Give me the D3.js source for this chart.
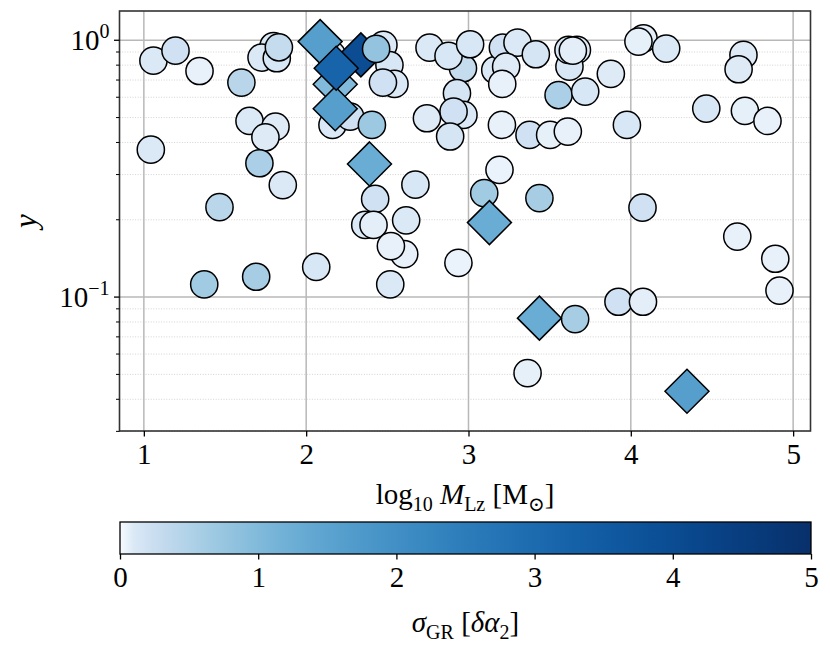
<!DOCTYPE html>
<html lang="en">
<head>
<meta charset="UTF-8">
<title>Scatter log y</title>
<script src="https://d3js.org/d3.v7.min.js"></script>
<style>
  body { margin: 0; background: #fff; }
  svg text { font-family: "Liberation Serif", "DejaVu Serif", serif; fill: #000; }
</style>
</head>
<body>
<svg id="chart" width="830" height="649"></svg>
<script>
// values, in draw order
const logM = [1.059, 1.195, 1.343, 1.601, 1.799, 1.725, 1.819, 1.832, 1.651, 1.811, 1.749, 1.043, 1.712, 1.856, 1.466, 1.372, 1.692,
  2.062, 2.158, 2.162, 2.271, 2.405, 2.476, 2.513, 2.544, 2.473, 2.425, 2.673, 2.364, 2.415, 2.616, 2.604, 2.522, 2.518, 2.938,
  2.760, 2.966, 2.877, 3.010, 2.929, 2.969, 2.908, 2.744, 2.887, 3.165, 3.212, 3.302, 3.415, 3.232, 3.208, 3.206, 3.376, 3.503,
  3.612, 3.555, 3.719, 3.668, 3.622, 3.616, 3.643, 3.877, 3.976, 4.078, 4.047, 4.218, 4.694, 4.664, 4.465, 4.703, 4.842, 3.191,
  3.097, 3.437, 4.072, 4.656, 4.890, 4.916, 3.924, 4.075, 3.657, 3.364,
  2.179, 2.086, 2.179, 2.337, 2.185, 2.390, 3.129, 3.437, 4.346,
  2.431];
const yVal = [0.833, 0.911, 0.759, 0.684, 0.950, 0.856, 0.851, 0.939, 0.485, 0.461, 0.419, 0.375, 0.332, 0.273, 0.224, 0.112, 0.120,
  0.131, 0.877, 0.468, 0.504, 0.468, 0.959, 0.801, 0.676, 0.684, 0.241, 0.274, 0.191, 0.191, 0.199, 0.147, 0.158, 0.112, 0.136,
  0.936, 0.778, 0.869, 0.965, 0.622, 0.512, 0.527, 0.497, 0.422, 0.766, 0.936, 0.979, 0.882, 0.789, 0.676, 0.468, 0.428, 0.428,
  0.441, 0.612, 0.631, 0.917, 0.789, 0.917, 0.911, 0.740, 0.468, 1.018, 0.988, 0.928, 0.877, 0.771, 0.542, 0.531, 0.485, 0.313,
  0.254, 0.243, 0.223, 0.172, 0.141, 0.106, 0.0959, 0.0959, 0.0821, 0.0506,
  0.674, 0.988, 0.541, 0.877, 0.778, 0.330, 0.195, 0.0828, 0.0430,
  0.925];
const sigma = [0.10, 0.20, 0.03, 0.42, 0.10, 0.10, 0.12, 0.30, 0.10, 0.08, 0.08, 0.10, 0.55, 0.10, 0.40, 0.65, 0.60,
  0.12, 0.10, 0.10, 0.20, 0.70, 0.10, 0.12, 0.10, 0.20, 0.20, 0.12, 0.10, 0.05, 0.10, 0.03, 0.03, 0.10, 0.02,
  0.10, 0.30, 0.12, 0.12, 0.15, 0.10, 0.20, 0.08, 0.15, 0.10, 0.20, 0.10, 0.15, 0.08, 0.03, 0.03, 0.20, 0.04,
  0.03, 0.55, 0.12, 0.08, 0.12, 0.12, 0.05, 0.08, 0.12, 0.05, 0.04, 0.10, 0.08, 0.08, 0.12, 0.04, 0.03, 0.02,
  0.65, 0.60, 0.20, 0.03, 0.03, 0.03, 0.20, 0.05, 0.60, 0.04,
  1.0, 1.6, 1.6, 4.0, 3.2, 1.3, 1.3, 1.3, 1.6,
  0.80];
const marker = logM.map((d, i) => (i >= 81 && i <= 89) ? "D" : "o");

const xTicks = [1, 2, 3, 4, 5];
const yMajor = [1, 0.1];
const yMinor = [0.9, 0.8, 0.7, 0.6, 0.5, 0.4, 0.3, 0.2, 0.09, 0.08, 0.07, 0.06, 0.05, 0.04, 0.03];
const cbTicks = [0, 1, 2, 3, 4, 5];

const FS = 29, SUB = 20;

const svg = d3.select("#chart");
const plot = { left: 119.5, right: 810.5, top: 11, bottom: 431 };

const x = d3.scaleLinear().domain([0.85, 5.107]).range([plot.left, plot.right]);
const y = d3.scaleLog().domain([0.0301, 1.30]).range([plot.bottom, plot.top]);
const color = v => d3.interpolateBlues(Math.sqrt(Math.max(0, Math.min(5, v)) / 5));

// grid
const grid = svg.append("g");
grid.selectAll(".minor").data(yMinor).enter().append("line")
  .attr("x1", plot.left).attr("x2", plot.right)
  .attr("y1", d => y(d)).attr("y2", d => y(d))
  .attr("stroke", "#c8c8c8").attr("stroke-width", 0.8).attr("stroke-dasharray", "1,1.6");
grid.selectAll(".majy").data(yMajor).enter().append("line")
  .attr("x1", plot.left).attr("x2", plot.right)
  .attr("y1", d => y(d)).attr("y2", d => y(d))
  .attr("stroke", "#b8b8b8").attr("stroke-width", 1.5);
grid.selectAll(".majx").data(xTicks).enter().append("line")
  .attr("x1", d => x(d)).attr("x2", d => x(d))
  .attr("y1", plot.top).attr("y2", plot.bottom)
  .attr("stroke", "#b8b8b8").attr("stroke-width", 1.5);

// markers
const diamond = s => `M0,${-s}L${s},0L0,${s}L${-s},0Z`;
const idx = d3.range(logM.length);
svg.append("g").selectAll("path").data(idx).enter().append("path")
  .attr("d", i => marker[i] === "D" ? diamond(22) : d3.arc()({ innerRadius: 0, outerRadius: 13.6, startAngle: 0, endAngle: 2 * Math.PI }))
  .attr("transform", i => `translate(${x(logM[i])},${y(yVal[i])})`)
  .attr("fill", i => color(sigma[i]))
  .attr("stroke", "#000").attr("stroke-width", 1.5);

// frame
svg.append("rect")
  .attr("x", plot.left).attr("y", plot.top)
  .attr("width", plot.right - plot.left).attr("height", plot.bottom - plot.top)
  .attr("fill", "none").attr("stroke", "#333").attr("stroke-width", 1.6);

// x axis
const xAxis = svg.append("g").attr("transform", `translate(0,${plot.bottom})`)
  .call(d3.axisBottom(x).tickValues(xTicks).tickSize(5.5).tickFormat(d3.format("d")));
xAxis.select(".domain").remove();
xAxis.selectAll("line").attr("stroke", "#000").attr("stroke-width", 1.3);
xAxis.selectAll("text").attr("font-size", FS).attr("dy", "0.85em")
  .style("font-family", "'Liberation Serif', serif");

// y axis
const yAxis = svg.append("g").attr("transform", `translate(${plot.left},0)`);
yAxis.selectAll(".mj").data(yMajor).enter().append("line")
  .attr("x1", -5.5).attr("x2", 0).attr("y1", d => y(d)).attr("y2", d => y(d))
  .attr("stroke", "#000").attr("stroke-width", 1.3);
yAxis.selectAll(".mn").data(yMinor).enter().append("line")
  .attr("x1", -3.5).attr("x2", 0).attr("y1", d => y(d)).attr("y2", d => y(d))
  .attr("stroke", "#000").attr("stroke-width", 1);
const ylab = yAxis.selectAll(".lab").data(yMajor).enter().append("text")
  .attr("x", -10).attr("y", d => y(d) + 10).attr("text-anchor", "end").attr("font-size", FS);
ylab.append("tspan").text("10");
ylab.append("tspan").attr("font-size", SUB).attr("dy", -12)
  .text(d => d === 1 ? "0" : "\u22121");

svg.append("text")
  .attr("transform", `translate(36,${(plot.top + plot.bottom) / 2}) rotate(-90)`)
  .attr("text-anchor", "middle").attr("font-size", 31).attr("font-style", "italic").text("y");

// x label
const xl = svg.append("text").attr("x", (plot.left + plot.right) / 2).attr("y", 504)
  .attr("text-anchor", "middle").attr("font-size", FS);
xl.append("tspan").text("log");
xl.append("tspan").attr("font-size", SUB).attr("dy", 7).text("10");
xl.append("tspan").attr("dy", -7).text(" ");
xl.append("tspan").attr("font-style", "italic").text("M");
xl.append("tspan").attr("font-size", SUB).attr("dy", 7).text("Lz");
xl.append("tspan").attr("dy", -7).text(" [M");
xl.append("tspan").attr("font-size", SUB).attr("dy", 7).text("\u2299");
xl.append("tspan").attr("dy", -7).text("]");

// colorbar
const cb = { left: 120, right: 811, top: 522, bottom: 554 };
const cx = d3.scaleLinear().domain([0, 5]).range([cb.left, cb.right]);
const grad = svg.append("defs").append("linearGradient").attr("id", "cbgrad");
grad.selectAll("stop").data(d3.range(0, 1.0001, 0.02)).enter().append("stop")
  .attr("offset", d => d).attr("stop-color", d => color(d * 5));
svg.append("rect").attr("x", cb.left).attr("y", cb.top)
  .attr("width", cb.right - cb.left).attr("height", cb.bottom - cb.top)
  .attr("fill", "url(#cbgrad)").attr("stroke", "#000").attr("stroke-width", 1.3);
const cAxis = svg.append("g").attr("transform", `translate(0,${cb.bottom})`)
  .call(d3.axisBottom(cx).tickValues(cbTicks).tickSize(5.5).tickFormat(d3.format("d")));
cAxis.select(".domain").remove();
cAxis.selectAll("line").attr("stroke", "#000").attr("stroke-width", 1.3);
cAxis.selectAll("text").attr("font-size", FS).attr("dy", "0.85em");

const cl = svg.append("text").attr("x", (cb.left + cb.right) / 2).attr("y", 632)
  .attr("text-anchor", "middle").attr("font-size", FS);
cl.append("tspan").attr("font-style", "italic").text("\u03c3");
cl.append("tspan").attr("font-size", SUB).attr("dy", 7).text("GR");
cl.append("tspan").attr("dy", -7).text(" [");
cl.append("tspan").attr("font-style", "italic").text("\u03b4\u03b1");
cl.append("tspan").attr("font-size", SUB).attr("dy", 7).text("2");
cl.append("tspan").attr("dy", -7).text("]");
</script>
</body>
</html>
